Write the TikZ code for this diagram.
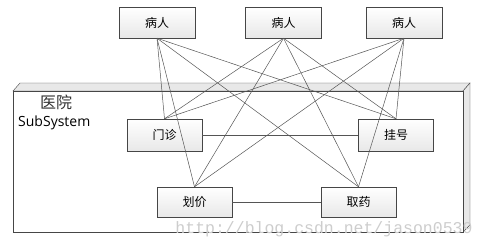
\documentclass[tikz,border=0pt]{standalone}
\usepackage{fontspec}
\usepackage{tikz}
\usetikzlibrary{positioning, calc}
\newfontfamily\cjk{Noto Sans CJK SC}
\newfontfamily\uifont{Open Sans}
\newfontfamily\markfont{Liberation Mono}
\definecolor{edgegray}{RGB}{70, 70, 70}
\definecolor{linkgray}{RGB}{85, 85, 85}
\definecolor{facegray}{RGB}{232, 232, 232}
\definecolor{markgray}{RGB}{205, 205, 205}

\begin{document}
\begin{tikzpicture}[
          x=1pt, y=-1pt,
          actor/.style={draw=edgegray, top color=white, bottom color=facegray,
                        minimum width=76pt, minimum height=31pt, inner sep=0pt,
                        font=\cjk\fontsize{12}{14}\selectfont},
          usecase/.style={actor, minimum width=75pt},
          link/.style={draw=linkgray, line width=0.5pt},
        ]
        \useasboundingbox (0,0) rectangle (486,249);

        % subsystem frame (3d box)
        \filldraw[draw=edgegray, fill=facegray] (13,91) -- (20,83) -- (470,83) -- (463,91) -- cycle;
        \filldraw[draw=edgegray, fill=facegray] (463,91) -- (470,83) -- (470,225) -- (463,232) -- cycle;
        \draw[edgegray, fill=white] (13,91) rectangle (463,232);
        \node[font=\cjk\fontsize{16}{18}\selectfont, text=black!80] (title) at (56,102) {医院};
        \node[font=\uifont\fontsize{14}{16}\selectfont, anchor=west, inner sep=0pt] (sub) at (18,123) {SubSystem};

        \node[actor] (p1) at (157,22.5) {病人};
        \node[actor] (p2) at (283.5,22.5) {病人};
        \node[actor] (p3) at (404,22.5) {病人};

        \node[usecase, minimum height=32pt] (mz) at (164.5,135) {门诊};
        \node[usecase, minimum height=32pt] (gh) at (396,135) {挂号};
        \node[usecase, minimum height=30pt] (hj) at (194.5,202) {划价};
        \node[usecase, minimum height=30pt] (qy) at (358.5,202) {取药};

        \foreach \p in {p1,p2,p3}
          \foreach \q in {mz,gh,hj,qy}
            \draw[link] (\p.south) -- (\q.north);

        \draw[link] (mz) -- (gh);
        \draw[link] (hj) -- (qy);

        \node[markgray, font=\markfont\fontsize{16.5}{18}\selectfont] (mark) at (324,229) {http://blog.csdn.net/jason0539};
      \end{tikzpicture}
\end{document}
